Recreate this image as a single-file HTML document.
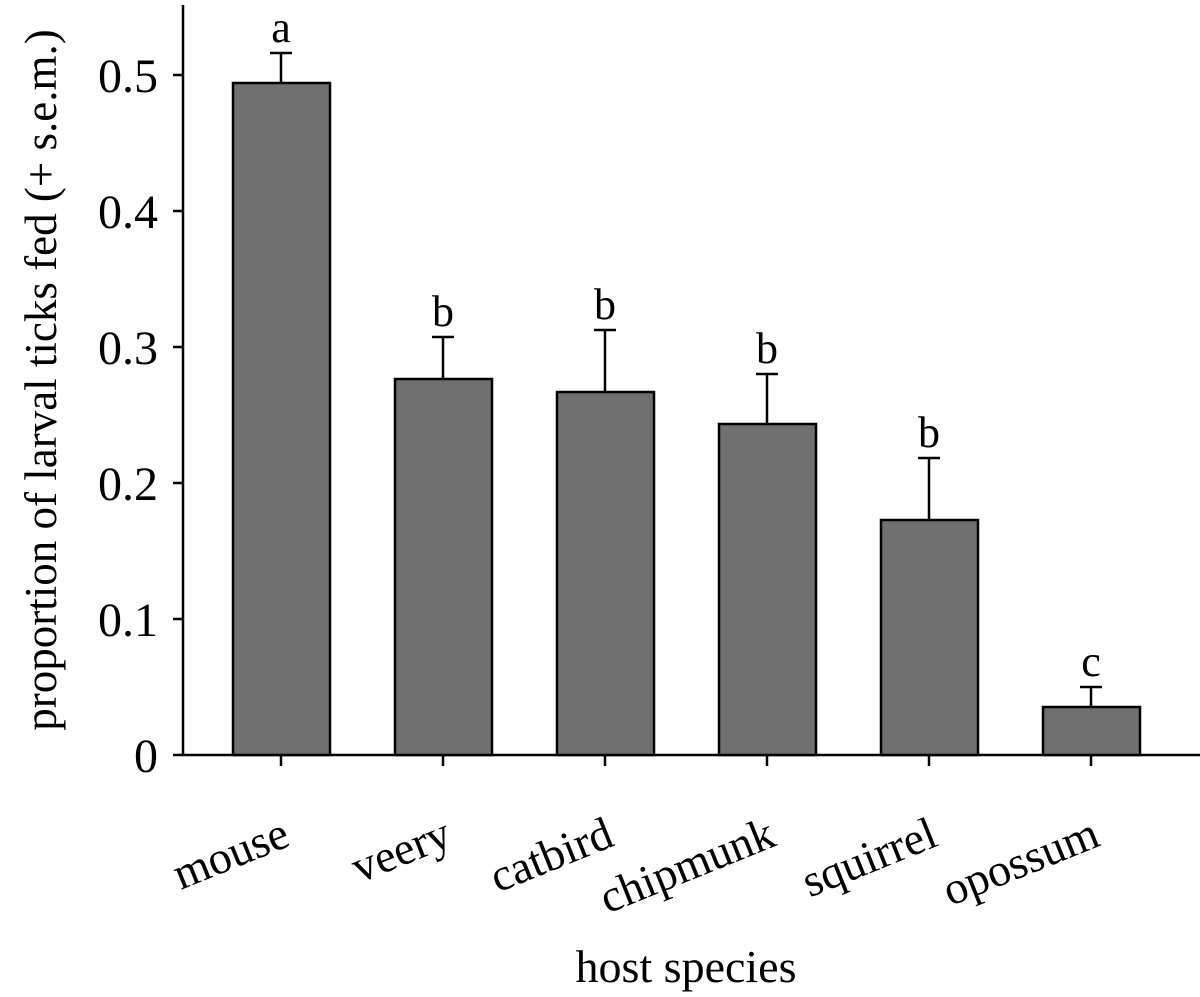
<!DOCTYPE html>
<html><head><style>body{margin:0;background:#fff}</style></head><body>
<svg width="1200" height="992" xmlns="http://www.w3.org/2000/svg" font-family="'Liberation Serif',serif" fill="#000">
<g stroke="#000" stroke-width="2.5" fill="none">
<line x1="183" y1="5" x2="183" y2="756"/>
<line x1="182" y1="755" x2="1200" y2="755"/>
<line x1="173" y1="755" x2="183" y2="755"/>
<line x1="173" y1="619" x2="183" y2="619"/>
<line x1="173" y1="483" x2="183" y2="483"/>
<line x1="173" y1="347" x2="183" y2="347"/>
<line x1="173" y1="211" x2="183" y2="211"/>
<line x1="173" y1="75" x2="183" y2="75"/>
<line x1="281" y1="755" x2="281" y2="766"/>
<line x1="443" y1="755" x2="443" y2="766"/>
<line x1="605" y1="755" x2="605" y2="766"/>
<line x1="767" y1="755" x2="767" y2="766"/>
<line x1="929" y1="755" x2="929" y2="766"/>
<line x1="1091" y1="755" x2="1091" y2="766"/>
<path d="M281 83V53M270 53H292"/>
<path d="M443 379V337M432 337H454"/>
<path d="M605 392V330M594 330H616"/>
<path d="M767 424V374M756 374H778"/>
<path d="M929 520V458M918 458H940"/>
<path d="M1091 707V687M1080 687H1102"/>
</g>
<g fill="#707070" stroke="#000" stroke-width="2.5">
<rect x="233" y="83" width="97" height="672"/>
<rect x="395" y="379" width="97" height="376"/>
<rect x="557" y="392" width="97" height="363"/>
<rect x="719" y="424" width="97" height="331"/>
<rect x="881" y="520" width="97" height="235"/>
<rect x="1043" y="707" width="97" height="48"/>
</g>
<g font-size="48" text-anchor="end">
<text x="158" y="772">0</text>
<text x="158" y="636">0.1</text>
<text x="158" y="500">0.2</text>
<text x="158" y="364">0.3</text>
<text x="158" y="228">0.4</text>
<text x="158" y="92">0.5</text>
</g>
<g font-size="44" text-anchor="middle">
<text x="281" y="42">a</text>
<text x="443" y="326">b</text>
<text x="605" y="319">b</text>
<text x="767" y="363">b</text>
<text x="929" y="447">b</text>
<text x="1091" y="676">c</text>
</g>
<g font-size="46" text-anchor="end">
<text transform="translate(292,845) rotate(-22)">mouse</text>
<text transform="translate(454,845) rotate(-22)">veery</text>
<text transform="translate(616,845) rotate(-22)">catbird</text>
<text transform="translate(778,845) rotate(-22)">chipmunk</text>
<text transform="translate(940,845) rotate(-22)">squirrel</text>
<text transform="translate(1102,845) rotate(-22)">opossum</text>
</g>
<text x="686" y="982" font-size="46" text-anchor="middle">host species</text>
<text transform="translate(56,380) rotate(-90)" font-size="45" text-anchor="middle">proportion of larval ticks fed (+ s.e.m.)</text>
</svg>
</body></html>
